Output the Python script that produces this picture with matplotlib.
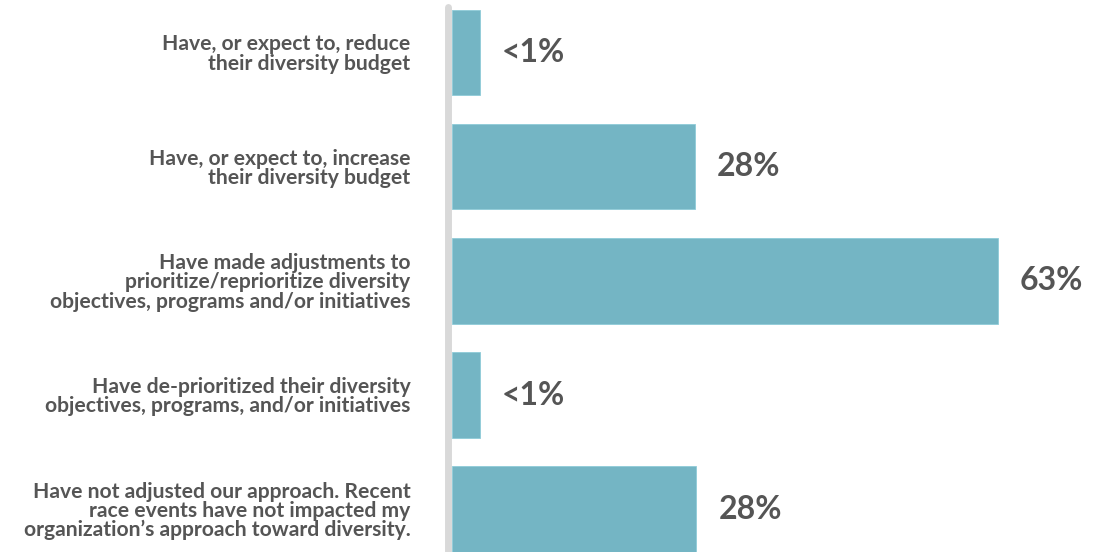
import matplotlib
matplotlib.use("Agg")
import matplotlib.pyplot as plt
from matplotlib.transforms import offset_copy

categories = [
    "Have, or expect to, reduce\ntheir diversity budget",
    "Have, or expect to, increase\ntheir diversity budget",
    "Have made adjustments to\nprioritize/reprioritize diversity\nobjectives, programs and/or initiatives",
    "Have de-prioritized their diversity\nobjectives, programs, and/or initiatives",
    "Have not adjusted our approach. Recent\nrace events have not impacted my\norganization\u2019s approach toward diversity.",
]
values = [3.2, 28, 63, 3.2, 28.2]
value_labels = ["<1%", "28%", "63%", "<1%", "28%"]

W, H = 1096, 552
fig = plt.figure(figsize=(W / 100, H / 100), dpi=100)
ax = fig.add_axes([452 / W, 0, 1 - 452 / W, (552 - 7) / H])

bar_color = "#74b5c4"
text_color = "#555555"
ypos = list(range(len(categories)))
ax.barh(ypos, values, height=0.75, color=bar_color, edgecolor="#8fcbd8", linewidth=0.6)

ax.set_ylim(4.374, -0.398)
ax.set_xlim(0, 74.3)

for s in ["top", "right", "bottom"]:
    ax.spines[s].set_visible(False)
ax.spines["left"].set_color("#d9d9d9")
ax.spines["left"].set_linewidth(5)
ax.spines["left"].set_position(("outward", 3))
ax.spines["left"].set_capstyle("round")

ax.set_xticks([])
ax.set_yticks(ypos)
ax.set_yticklabels(categories, fontfamily="Lato", fontweight="bold", fontsize=15.2,
                   color=text_color, linespacing=0.95, ha="right", multialignment="right")
ax.tick_params(axis="y", length=0, pad=27)

trans = offset_copy(ax.transData, fig=fig, x=22, y=0, units="dots")
for y, v, lab in zip(ypos, values, value_labels):
    ax.text(v, y, lab, transform=trans, ha="left", va="center", fontfamily="Lato",
            fontweight="bold", fontsize=23, color=text_color)

fig.savefig("out.png", dpi=100)
